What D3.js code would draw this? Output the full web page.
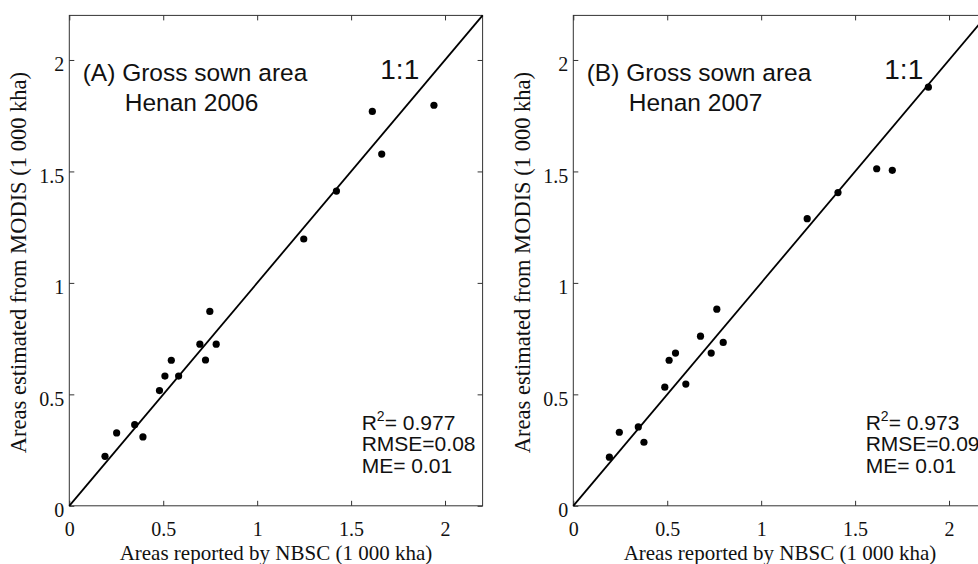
<!DOCTYPE html>
<html>
<head>
<meta charset="utf-8">
<script src="https://cdn.jsdelivr.net/npm/d3@7"></script>
<style>
  body { margin: 0; background: #fff; }
  svg { display: block; }
</style>
</head>
<body>
<div id="chart"></div>
<script>
// values (1 000 kha)
let nbsc2006 = [0.19, 0.252, 0.348, 0.392, 0.48, 0.509, 0.543, 0.582, 0.695, 0.725, 0.748, 0.782, 1.248, 1.422, 1.613, 1.663, 1.941];
let modis2006 = [0.222, 0.327, 0.364, 0.309, 0.517, 0.582, 0.653, 0.582, 0.725, 0.654, 0.872, 0.725, 1.197, 1.412, 1.769, 1.578, 1.797];
let nbsc2007 = [0.192, 0.245, 0.346, 0.376, 0.487, 0.51, 0.544, 0.599, 0.677, 0.734, 0.764, 0.798, 1.245, 1.409, 1.615, 1.698, 1.89];
let modis2007 = [0.218, 0.33, 0.354, 0.285, 0.532, 0.653, 0.685, 0.546, 0.761, 0.685, 0.882, 0.733, 1.288, 1.405, 1.512, 1.505, 1.878];

let tickValues = [0, 0.5, 1, 1.5, 2];
let axisMax = 2.2;
let titles = ["(A) Gross sown area", "(B) Gross sown area"];
let subtitles = ["Henan 2006", "Henan 2007"];
let r2Values = ["0.977", "0.973"];
let rmseValues = ["0.08", "0.09"];
let meValues = ["0.01", "0.01"];
let xLabel = "Areas reported by NBSC (1 000 kha)";
let yLabel = "Areas estimated from MODIS (1 000 kha)";

let width = 978;
let height = 564;
let svg = d3.select("#chart")
    .append("svg")
    .attr("width", width)
    .attr("height", height);

let panels = [
    { left: 69.3, x: nbsc2006, y: modis2006 },
    { left: 573.3, x: nbsc2007, y: modis2007 }
];
let plotTop = 15.4, plotBottom = 505.8, plotW = 413.3;
let sans = "'Liberation Sans', Arial, sans-serif";
let serif = "'Liberation Serif', 'Times New Roman', serif";

panels.forEach(function (p, i) {
    let x = d3.scaleLinear().domain([0, axisMax]).range([p.left, p.left + plotW]);
    let y = d3.scaleLinear().domain([0, axisMax]).range([plotBottom, plotTop]);
    let g = svg.append("g");

    // box
    g.append("rect")
        .attr("x", x(0)).attr("y", y(axisMax))
        .attr("width", x(axisMax) - x(0)).attr("height", y(0) - y(axisMax))
        .attr("fill", "none").attr("stroke", "#333").attr("stroke-width", 1);

    // bottom axis with labels
    let xb = g.append("g").attr("transform", "translate(0," + y(0) + ")")
        .call(d3.axisBottom(x).tickValues(tickValues).tickSizeInner(-5).tickSizeOuter(0)
            .tickFormat(d3.format("")));
    xb.select(".domain").remove();
    xb.selectAll("line").attr("stroke", "#333");
    xb.selectAll("text").attr("y", 30).attr("dy", null)
        .style("font-family", serif).style("font-size", "20px").attr("fill", "#111");

    // top axis, ticks only
    let xt = g.append("g").attr("transform", "translate(0," + y(axisMax) + ")")
        .call(d3.axisTop(x).tickValues(tickValues).tickSizeInner(-5).tickSizeOuter(0).tickFormat(""));
    xt.select(".domain").remove();
    xt.selectAll("line").attr("stroke", "#333");

    // left axis with labels
    let yl = g.append("g").attr("transform", "translate(" + x(0) + ",0)")
        .call(d3.axisLeft(y).tickValues(tickValues).tickSizeInner(-5).tickSizeOuter(0)
            .tickFormat(d3.format("")));
    yl.select(".domain").remove();
    yl.selectAll("line").attr("stroke", "#333");
    yl.selectAll("text").attr("x", -5).attr("dy", "0.55em")
        .style("font-family", serif).style("font-size", "20px").attr("fill", "#111");

    // right axis, ticks only
    let yr = g.append("g").attr("transform", "translate(" + x(axisMax) + ",0)")
        .call(d3.axisRight(y).tickValues(tickValues).tickSizeInner(-5).tickSizeOuter(0).tickFormat(""));
    yr.select(".domain").remove();
    yr.selectAll("line").attr("stroke", "#333");

    // 1:1 line
    g.append("line")
        .attr("x1", x(0)).attr("y1", y(0))
        .attr("x2", x(axisMax)).attr("y2", y(axisMax))
        .attr("stroke", "#000").attr("stroke-width", 1.8);

    // points
    g.selectAll("circle.pt")
        .data(d3.range(p.x.length))
        .enter().append("circle")
        .attr("class", "pt")
        .attr("cx", function (d) { return x(p.x[d]); })
        .attr("cy", function (d) { return y(p.y[d]); })
        .attr("r", 3.6)
        .attr("fill", "#000");

    // axis titles
    g.append("text")
        .attr("x", (x(0) + x(axisMax)) / 2).attr("y", 559.5)
        .attr("text-anchor", "middle")
        .style("font-family", serif).style("font-size", "21px").attr("fill", "#111")
        .text(xLabel);
    g.append("text")
        .attr("transform", "translate(" + (x(0) - 43.5) + "," + ((y(0) + y(axisMax)) / 2 + 2) + ") rotate(-90)")
        .attr("text-anchor", "middle")
        .style("font-family", serif).style("font-size", "22.5px").attr("fill", "#111")
        .text(yLabel);

    // annotations
    g.append("text").attr("x", x(0) + 13.4).attr("y", 81)
        .style("font-family", sans).style("font-size", "24.5px").attr("fill", "#111")
        .text(titles[i]);
    g.append("text").attr("x", x(0) + 55.5).attr("y", 111)
        .style("font-family", sans).style("font-size", "24.5px").attr("fill", "#111")
        .text(subtitles[i]);
    g.append("text").attr("x", x(0) + 311).attr("y", 79)
        .style("font-family", sans).style("font-size", "28px").attr("fill", "#111")
        .text("1:1");

    let stats = g.append("g")
        .style("font-family", sans).style("font-size", "21px").attr("fill", "#111");
    let r2 = stats.append("text").attr("x", x(0) + 292.4).attr("y", 429.5);
    r2.append("tspan").text("R");
    r2.append("tspan").attr("dy", -9).style("font-size", "14px").text("2");
    r2.append("tspan").attr("dy", 9).text("= " + r2Values[i]);
    stats.append("text").attr("x", x(0) + 292.4).attr("y", 451.2).text("RMSE=" + rmseValues[i]);
    stats.append("text").attr("x", x(0) + 292.4).attr("y", 473).text("ME= " + meValues[i]);
});
</script>
</body>
</html>
